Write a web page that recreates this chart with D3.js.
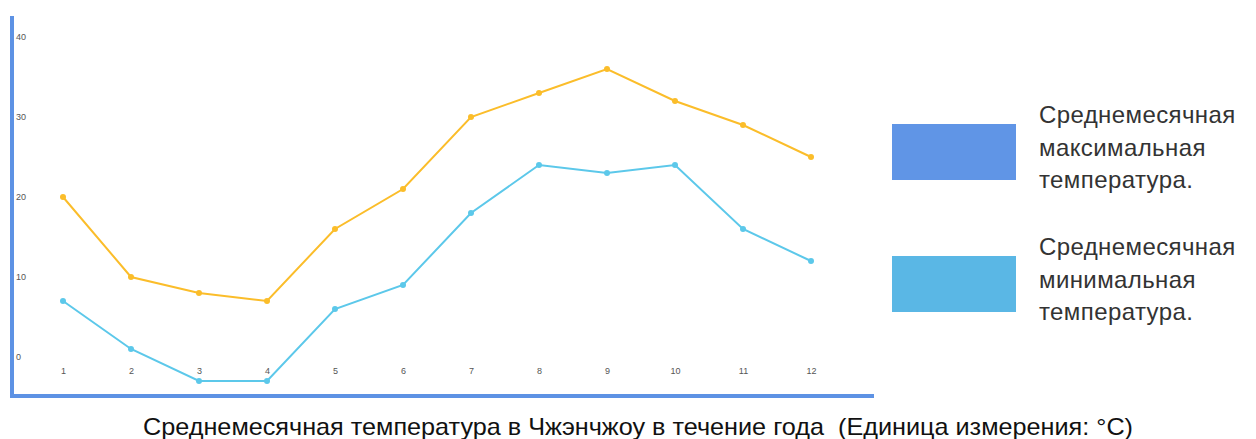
<!DOCTYPE html>
<html lang="ru">
<head>
<meta charset="utf-8"/>
<title>Среднемесячная температура в Чжэнчжоу</title>
<script src="https://d3js.org/d3.v7.min.js"></script>
<style>
  body { margin: 0; background: #fff; }
  svg { display: block; font-family: "Liberation Sans", Arial, sans-serif; }
</style>
</head>
<body>
<svg id="chart" width="1256" height="439"></svg>
<script>
// data
const months = [1, 2, 3, 4, 5, 6, 7, 8, 9, 10, 11, 12]
const maxTemp = [20, 10, 8, 7, 16, 21, 30, 33, 36, 32, 29, 25]
const minTemp = [7, 1, -3, -3, 6, 9, 18, 24, 23, 24, 16, 12]
const yTicks = [0, 10, 20, 30, 40]
const legendLabels = [
  ["Среднемесячная", "максимальная", "температура."],
  ["Среднемесячная", "минимальная", "температура."]
]
const title = "Среднемесячная температура в Чжэнчжоу в течение года  (Единица измерения: °C)"

const svg = d3.select("#chart")

const x = d3.scaleLinear().domain([1, 12]).range([63, 811])
const y = d3.scaleLinear().domain([0, 40]).range([357, 37])

// the blue frame lines (left + bottom)
const axisBlue = "#5d92e4"
svg.append("line").attr("x1", 12).attr("x2", 12).attr("y1", 16).attr("y2", 398)
   .attr("stroke", axisBlue).attr("stroke-width", 4)
svg.append("line").attr("x1", 10).attr("x2", 874).attr("y1", 396).attr("y2", 396)
   .attr("stroke", axisBlue).attr("stroke-width", 4)

// tick labels
const yAxis = svg.append("g").attr("transform", "translate(14,0)")
  .call(d3.axisRight(y).tickValues(yTicks).tickSize(0).tickPadding(2))
yAxis.select(".domain").remove()
yAxis.selectAll("text").attr("font-size", 9).attr("fill", "#555")

const xAxis = svg.append("g").attr("transform", "translate(0,368)")
  .call(d3.axisBottom(x).tickValues(months).tickFormat(d3.format("d")).tickSize(0).tickPadding(0))
xAxis.select(".domain").remove()
xAxis.selectAll("text").attr("font-size", 9).attr("fill", "#555")

// lines
const series = [
  { values: maxTemp, color: "#fbbd2a" },
  { values: minTemp, color: "#5cc8ea" }
]
const line = d3.line().x((d, i) => x(months[i])).y(d => y(d))

series.forEach(s => {
  svg.append("path").datum(s.values)
     .attr("d", line).attr("fill", "none")
     .attr("stroke", s.color).attr("stroke-width", 2)
  svg.append("g").selectAll("circle").data(s.values).join("circle")
     .attr("cx", (d, i) => x(months[i])).attr("cy", d => y(d))
     .attr("r", 3).attr("fill", s.color)
})

// legend
const legendColors = ["#6095e6", "#5ab7e5"]
legendLabels.forEach((lines, i) => {
  const top = 124 + i * 132
  svg.append("rect").attr("x", 892).attr("y", top).attr("width", 124).attr("height", 56)
     .attr("fill", legendColors[i])
  const t = svg.append("text").attr("x", 1039).attr("y", top - 1)
     .attr("font-size", 24).attr("letter-spacing", 0.4).attr("fill", "#333")
  lines.forEach((l, j) => {
    t.append("tspan").attr("x", 1039).attr("dy", j === 0 ? 0 : 32.5).text(l)
  })
})

// bottom caption
svg.append("text").attr("x", 638).attr("y", 435).attr("text-anchor", "middle")
   .style("white-space", "pre")
   .attr("font-size", 24).attr("fill", "#111")
   .attr("textLength", 990).attr("lengthAdjust", "spacingAndGlyphs")
   .text(title)
</script>
</body>
</html>
